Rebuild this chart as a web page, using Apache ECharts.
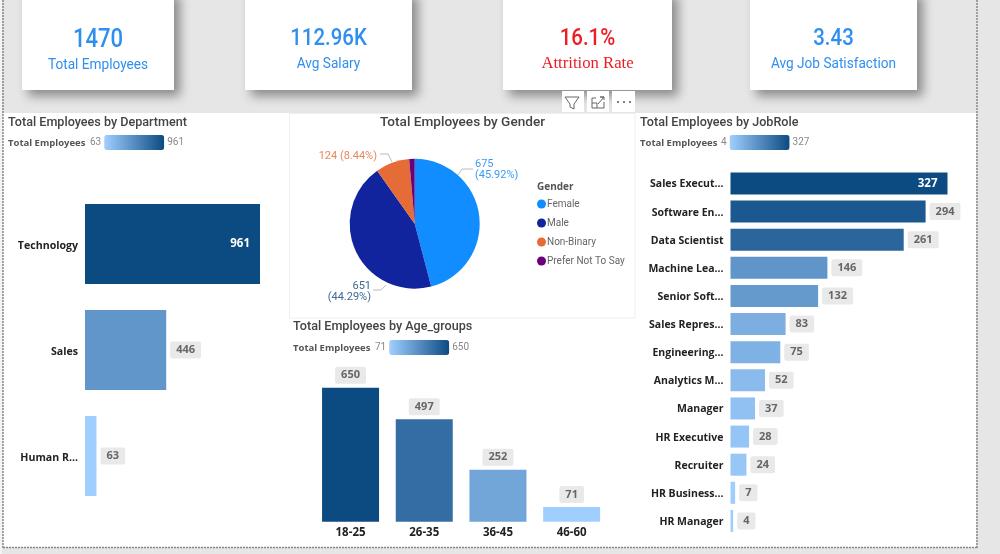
<!DOCTYPE html>
<html>
<head>
<meta charset="utf-8">
<style>html,body{margin:0;padding:0;background:#fff}#main{width:1000px;height:554px}</style>
<script src="https://cdn.jsdelivr.net/npm/echarts@6/dist/echarts.min.js"></script>
</head>
<body>
<div id="main"></div>
<script>
// HR dashboard: headline cards, department, gender, age group and job role breakdowns
const cardValues = ['1470', '112.96K', '16.1%', '3.43'];
const cardLabels = ['Total Employees', 'Avg Salary', 'Attrition Rate', 'Avg Job Satisfaction'];

const deptNames = ['Technology', 'Sales', 'Human R...'];
const deptCounts = [961, 446, 63];

const genderNames = ['Female', 'Male', 'Non-Binary', 'Prefer Not To Say'];
const genderCounts = [675, 651, 124, 20];

const ageNames = ['18-25', '26-35', '36-45', '46-60'];
const ageCounts = [650, 497, 252, 71];

const roleNames = ['Sales Execut...', 'Software En...', 'Data Scientist', 'Machine Lea...', 'Senior Soft...',
  'Sales Repres...', 'Engineering...', 'Analytics M...', 'Manager', 'HR Executive', 'Recruiter',
  'HR Business...', 'HR Manager'];
const roleCounts = [327, 294, 261, 146, 132, 83, 75, 52, 37, 28, 24, 7, 4];

const BLUE = '#2f8fef';
const TITLE_FONT = 'Roboto';
const BODY_FONT = '"Open Sans"';
const chart = echarts.init(document.getElementById('main'), null, { renderer: 'canvas' });

// Largest bar carries its value inside in white, the others get a grey pill outside
function barItems(values, outerPos) {
  const top = Math.max(...values);
  return values.map(v => v === top && outerPos === 'right'
    ? { value: v, label: { position: 'insideRight', distance: 10, color: '#fff', backgroundColor: 'transparent', padding: 0, fontSize: 11.5 } }
    : v);
}
function barSeries(values, axisIndex, pos, width, dist) {
  return {
    type: 'bar', xAxisIndex: axisIndex, yAxisIndex: axisIndex, barWidth: width,
    data: barItems(values, pos), silent: true, animation: false,
    label: { show: true, position: pos, distance: dist, color: '#666', fontFamily: BODY_FONT, fontWeight: 'bold', fontSize: 11,
      backgroundColor: '#e9e9e9', borderRadius: 2, padding: [3, 6, 3, 6] }
  };
}
function gradientScale(values, seriesIndex, dimension, left, top) {
  const hi = Math.max(...values), lo = Math.min(...values);
  return {
    type: 'continuous', seriesIndex, dimension, min: lo, max: hi, orient: 'horizontal', left, top,
    itemWidth: 15, itemHeight: 60, text: [String(hi), String(lo)], textGap: 3, calculable: false, hoverLink: false,
    textStyle: { color: '#888', fontSize: 10, fontFamily: TITLE_FONT },
    inRange: { color: ['#a0cfff', '#0c4a82'] }
  };
}
const hiddenValue = (max, gridIndex) => ({ type: 'value', gridIndex, min: 0, max, show: false });
function catAxis(names, size, margin, inverse, gridIndex, nudge) {
  const label = { color: '#222', fontFamily: BODY_FONT, fontWeight: 'bold', fontSize: size, margin, interval: 0 };
  // A short line box anchored at its top drops the text just below the band centre
  if (nudge) { label.verticalAlign = 'top'; label.lineHeight = nudge; }
  return { type: 'category', gridIndex, data: names, inverse, axisLine: { show: false }, axisTick: { show: false }, axisLabel: label };
}
const chartTitle = (text, pos, size) => Object.assign({ text, textStyle: { color: '#444', fontFamily: TITLE_FONT, fontWeight: 500, fontSize: size || 12.6 }, padding: 0 }, pos);

// Page furniture drawn behind the charts
const cardBoxes = [[22, 152], [245, 167], [503, 169], [750, 167]];
const textY = [[40, 65], [39, 64], [39, 64], [39, 64]];
const dotted = { stroke: '#888', lineWidth: 1.5, lineDash: [2, 1] };
const furniture = [
  { type: 'rect', z: -10, shape: { x: 0, y: 0, width: 1000, height: 554 }, style: { fill: '#e6e6e6' } },
  { type: 'rect', z: -10, shape: { x: 0, y: 0, width: 2, height: 554 }, style: { fill: '#f4f4f4' } },
  { type: 'rect', z: -9, shape: { x: 3, y: 113, width: 973, height: 434 }, style: { fill: '#fff' } },
  { type: 'rect', z: -8, shape: { x: 289.5, y: 113.5, width: 345.5, height: 204.5 }, style: { fill: '#fff', stroke: '#eeeeee', lineWidth: 1 } },
  { type: 'line', z: -7, shape: { x1: 3, y1: 0, x2: 3, y2: 548 }, style: dotted },
  { type: 'line', z: -7, shape: { x1: 977, y1: 0, x2: 977, y2: 548 }, style: dotted },
  { type: 'line', z: -7, shape: { x1: 3, y1: 547.5, x2: 978, y2: 547.5 }, style: dotted },
  { type: 'text', z: 5, style: { x: 8, y: 143, text: 'Total Employees', fill: '#555', font: 'bold 9.5px "Open Sans"', verticalAlign: 'middle' } },
  { type: 'text', z: 5, style: { x: 640, y: 143, text: 'Total Employees', fill: '#555', font: 'bold 9.5px "Open Sans"', verticalAlign: 'middle' } },
  { type: 'text', z: 5, style: { x: 293, y: 348, text: 'Total Employees', fill: '#555', font: 'bold 9.5px "Open Sans"', verticalAlign: 'middle' } },
  { type: 'text', z: 5, style: { x: 537, y: 187, text: 'Gender', fill: '#555', font: 'bold 10px "Open Sans"', verticalAlign: 'middle' } }
];
cardBoxes.forEach(([x, w], i) => {
  const red = i === 2;
  const cx = x + w / 2;
  furniture.push(
    { type: 'rect', z: -5, shape: { x, y: -10, width: w, height: 100 },
      style: { fill: '#fff', shadowBlur: 10, shadowOffsetX: 6, shadowOffsetY: 6, shadowColor: 'rgba(0,0,0,0.4)' } },
    { type: 'text', z: 5, x: cx, y: textY[i][0], scaleX: 0.85, style: { x: 0, y: 0, text: cardValues[i], fill: red ? '#ee1c25' : BLUE,
      font: '500 ' + (i === 0 ? '26px' : '24px') + ' Roboto', align: 'center', verticalAlign: 'middle' } },
    { type: 'text', z: 5, x: cx, y: textY[i][1], scaleX: red ? 1 : 0.94, style: { x: 0, y: 0, text: cardLabels[i], fill: red ? '#ee1c25' : BLUE,
      font: red ? '16.7px "Liberation Serif"' : '14.5px Roboto', align: 'center', verticalAlign: 'middle' } }
  );
});
// Visual header buttons above the gender chart: filter, focus and more options
[[562, 22], [587, 22], [612, 23]].forEach(([x, w]) => furniture.push(
  { type: 'rect', z: -2, shape: { x, y: 91, width: w, height: 21 }, style: { fill: '#fff' } }));
furniture.push(
  { type: 'polyline', z: 5, shape: { points: [[565, 97], [579, 97], [574, 104], [574, 109], [570, 107], [570, 104], [565, 97]] }, style: { fill: 'none', stroke: '#666', lineWidth: 1 } },
  { type: 'polyline', z: 5, shape: { points: [[596, 98], [592, 98], [592, 108], [604, 108], [604, 102]] }, style: { fill: 'none', stroke: '#666', lineWidth: 1 } },
  { type: 'polyline', z: 5, shape: { points: [[592, 103], [597, 103], [597, 108]] }, style: { fill: 'none', stroke: '#666', lineWidth: 1 } },
  { type: 'polyline', z: 5, shape: { points: [[598, 104], [604, 97], [600, 97], [604, 97], [604, 100]] }, style: { fill: 'none', stroke: '#666', lineWidth: 1 } },
  { type: 'circle', z: 5, shape: { cx: 618, cy: 102, r: 1 }, style: { fill: '#555' } },
  { type: 'circle', z: 5, shape: { cx: 624, cy: 102, r: 1 }, style: { fill: '#555' } },
  { type: 'circle', z: 5, shape: { cx: 630, cy: 102, r: 1 }, style: { fill: '#555' } }
);

// Label anchors and leader lines for the gender slices around the pie
const pieAnchors = [
  { x: 475, y: 170, align: 'left', verticalAlign: 'middle', labelLinePoints: [[458, 175], [462, 169], [473, 169]] },
  { x: 371, y: 292, align: 'right', verticalAlign: 'middle', labelLinePoints: [[386, 285], [381, 290], [373, 290]] },
  { x: 377, y: 156, align: 'right', verticalAlign: 'middle', labelLinePoints: [[392, 162], [388, 154], [380, 154]] }
];
const genderTotal = genderCounts.reduce((a, b) => a + b, 0);
const pctText = (v) => (v / genderTotal * 100).toFixed(2) + '%';

chart.setOption({
  animation: false,
  backgroundColor: '#fff',
  title: [
    chartTitle('Total Employees by Department', { left: 8, top: 116 }),
    chartTitle('Total Employees by Gender', { left: 380, top: 116 }, 13.6),
    chartTitle('Total Employees by JobRole', { left: 640, top: 116 }),
    chartTitle('Total Employees by Age_groups', { left: 293, top: 320 })
  ],
  grid: [
    { left: 85, top: 191, width: 175, height: 318 },
    { left: 730.5, top: 169.4, width: 217, height: 365.6 },
    { left: 313.7, top: 387.7, width: 294.8, height: 134 }
  ],
  xAxis: [hiddenValue(961, 0), hiddenValue(327, 1), catAxis(ageNames, 11.5, 5.5, false, 2)],
  yAxis: [catAxis(deptNames, 10.6, 7, true, 0, 4), catAxis(roleNames, 10.5, 7, true, 1, 2), hiddenValue(650, 2)],
  visualMap: [
    gradientScale(deptCounts, 0, 0, 75, 120),
    gradientScale(roleCounts, 1, 0, 706, 120),
    gradientScale(ageCounts, 2, 1, 360, 325)
  ],
  legend: {
    orient: 'vertical', left: 537, top: 199, padding: 0, itemWidth: 9, itemHeight: 9, itemGap: 9, icon: 'circle', selectedMode: false,
    data: genderNames, textStyle: { color: '#666', fontFamily: TITLE_FONT, fontSize: 10, padding: [0, 0, 0, -4] }
  },
  series: [
    barSeries(deptCounts, 0, 'right', 80, 4),
    barSeries(roleCounts, 1, 'right', 22, 4),
    barSeries(ageCounts, 2, 'top', 57, 4),
    {
      type: 'pie', center: [414.7, 223.7], radius: [0, 65], startAngle: 90, clockwise: true,
      silent: true, animation: false, avoidLabelOverlap: false,
      data: genderNames.map((name, i) => ({
        name, value: genderCounts[i],
        itemStyle: { color: ['#118dff', '#12239e', '#e66c37', '#6b007b'][i] },
        label: { show: i < 3, color: ['#3a9bf5', '#3b6a95', '#e9875a', '#6b007b'][i],
          formatter: (p) => p.value + (i === 2 ? ' ' : '\n') + '(' + pctText(p.value) + ')' },
        labelLine: { show: i < 3 }
      })),
      label: { fontFamily: TITLE_FONT, fontSize: 11, lineHeight: 11 },
      labelLine: { length: 6, length2: 6, lineStyle: { color: '#bbb', width: 1 } },
      labelLayout: (p) => pieAnchors[p.dataIndex] || {}
    }
  ],
  graphic: { elements: furniture }
});
</script>
</body>
</html>
